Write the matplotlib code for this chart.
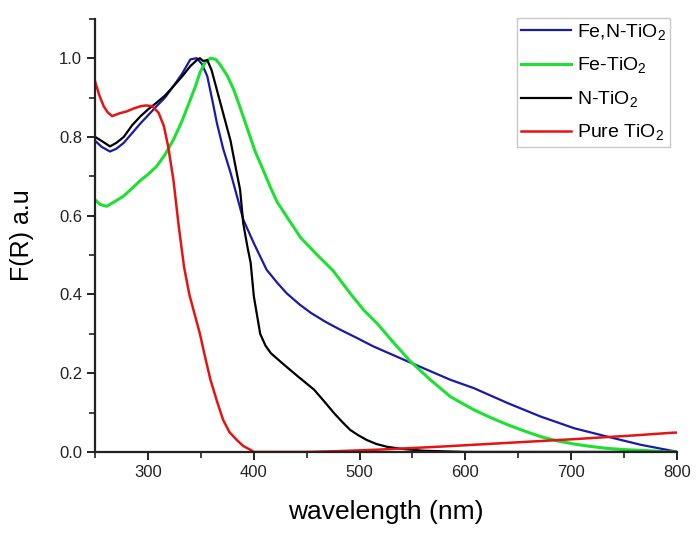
import matplotlib
matplotlib.use('Agg')
import matplotlib.pyplot as plt
from matplotlib.ticker import MultipleLocator

plt.rcParams['font.family'] = ['Liberation Sans', 'DejaVu Sans']
plt.rcParams['mathtext.fontset'] = 'custom'
plt.rcParams['mathtext.rm'] = 'Liberation Sans'

# wavelength (nm) / F(R)
fen_x = [250, 256, 264, 270, 277, 285, 293, 300, 308, 316, 324, 332, 340, 346, 351, 356, 361, 365, 371, 378,
         384, 390, 400, 412, 422, 431, 443, 454, 468, 482, 497, 513, 530, 548, 567, 586, 608, 640, 671, 703,
         734, 766, 797, 800]
fen_y = [0.79, 0.775, 0.763, 0.77, 0.785, 0.81, 0.835, 0.855, 0.878, 0.90, 0.929, 0.96, 0.997, 1.0, 0.985, 0.954,
         0.89, 0.836, 0.77, 0.709, 0.65, 0.59, 0.53, 0.463, 0.43, 0.403, 0.375, 0.353, 0.33, 0.31, 0.29, 0.268,
         0.248, 0.227, 0.205, 0.183, 0.162, 0.124, 0.09, 0.06, 0.039, 0.018, 0.002, 0.0]

fe_x = [250, 255, 261, 268, 277, 285, 293, 300, 308, 316, 324, 332, 340, 345, 349, 354, 359, 364, 368, 375,
        381, 387, 394, 401, 409, 416, 422, 431, 444, 460, 475, 491, 504, 517, 532, 548, 567, 586, 608, 624,
        640, 656, 671, 687, 703, 718, 734, 750, 766, 780, 790, 800]
fe_y = [0.64, 0.628, 0.624, 0.635, 0.65, 0.67, 0.69, 0.705, 0.725, 0.755, 0.793, 0.84, 0.895, 0.93, 0.963, 0.99,
        1.0, 0.997, 0.984, 0.955, 0.92, 0.875, 0.82, 0.765, 0.715, 0.67, 0.635, 0.598, 0.545, 0.50, 0.46, 0.403,
        0.36, 0.325, 0.278, 0.23, 0.183, 0.14, 0.107, 0.087, 0.069, 0.053, 0.039, 0.028, 0.02, 0.014, 0.009,
        0.006, 0.004, 0.002, 0.0, 0.0]

n_x = [250, 256, 264, 270, 277, 285, 293, 300, 308, 316, 324, 332, 340, 346, 349, 352, 356, 360, 365, 371, 378,
       383, 387, 390, 394, 397, 400, 406, 411, 416, 427, 438, 447, 457, 466, 476, 484, 491, 499, 507, 516,
       526, 539, 560, 600, 700, 800]
n_y = [0.80, 0.79, 0.776, 0.785, 0.80, 0.83, 0.853, 0.87, 0.887, 0.905, 0.929, 0.953, 0.98, 0.995, 1.0, 0.993,
       0.995, 0.97, 0.92, 0.86, 0.79, 0.72, 0.666, 0.58, 0.52, 0.48, 0.395, 0.30, 0.27, 0.251, 0.225, 0.20,
       0.18, 0.158, 0.13, 0.098, 0.075, 0.056, 0.042, 0.03, 0.02, 0.013, 0.008, 0.003, 0.0, 0.0, 0.0]

pure_x = [250, 254, 258, 262, 266, 273, 280, 286, 293, 298, 304, 310, 315, 319, 324, 329, 334, 339, 344, 349,
          354, 359, 365, 371, 377, 384, 390, 397, 400, 420, 450, 480, 520, 577, 640, 700, 760, 797, 800]
pure_y = [0.94, 0.905, 0.878, 0.862, 0.853, 0.86, 0.865, 0.872, 0.878, 0.88, 0.878, 0.861, 0.827, 0.776, 0.69,
          0.573, 0.47, 0.40, 0.35, 0.30, 0.24, 0.183, 0.13, 0.081, 0.05, 0.03, 0.015, 0.005, 0.0, 0.0, 0.0,
          0.002, 0.006, 0.0135, 0.023, 0.032, 0.042, 0.049, 0.049]

fig = plt.figure(figsize=(7, 5.38), dpi=100)
ax = fig.add_axes([0.136, 0.16, 0.831, 0.805])

ax.plot(fen_x, fen_y, color='#1a1aa8', lw=1.6, label=r'Fe,N-TiO$_\mathregular{2}$')
ax.plot(fe_x, fe_y, color='#1ee032', lw=2.2, label=r'Fe-TiO$_\mathregular{2}$')
ax.plot(n_x, n_y, color='black', lw=1.6, label=r'N-TiO$_\mathregular{2}$')
ax.plot(pure_x, pure_y, color='#e41414', lw=1.8, label=r'Pure TiO$_\mathregular{2}$')

ax.set_xlim(250, 800)
ax.set_ylim(0, 1.1)
ax.xaxis.set_major_locator(MultipleLocator(100))
ax.xaxis.set_minor_locator(MultipleLocator(50))
ax.yaxis.set_major_locator(MultipleLocator(0.2))
ax.yaxis.set_minor_locator(MultipleLocator(0.1))
ax.yaxis.set_major_formatter(plt.FormatStrFormatter('%.1f'))
ax.spines['top'].set_visible(False)
ax.spines['right'].set_visible(False)
for s in ['left', 'bottom']:
    ax.spines[s].set_linewidth(1.6)
    ax.spines[s].set_color('#222222')
ax.tick_params(which='major', direction='out', length=6, width=1.4, labelsize=12, colors='#222222')
ax.tick_params(which='minor', direction='out', length=4, width=1.2, colors='#222222')

ax.set_xlabel('wavelength (nm)', fontsize=19, labelpad=14)
ax.set_ylabel('F(R) a.u', fontsize=18, labelpad=18)

leg = ax.legend(loc='upper right', bbox_to_anchor=(0.995, 1.01), fontsize=14, frameon=True, fancybox=False,
                handlelength=2.6, handletextpad=0.3, borderpad=0.2, labelspacing=0.68, borderaxespad=0.2)
leg.get_frame().set_edgecolor('#bbbbbb')
leg.get_frame().set_linewidth(1.0)

fig.savefig('out.png', dpi=100)
